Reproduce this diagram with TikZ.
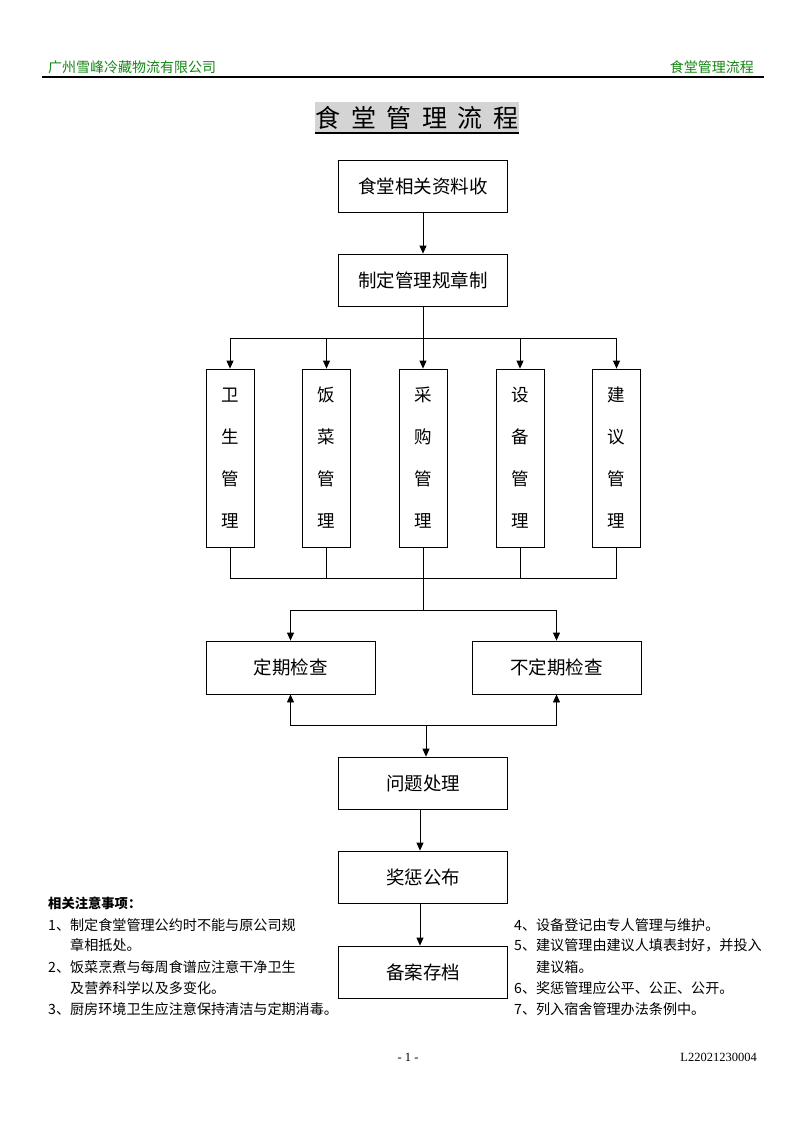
\documentclass[tikz,border=0pt]{standalone}
\usepackage{fontspec}
\setmainfont{Noto Sans CJK SC}
\newfontfamily\cjk{Noto Sans CJK SC}
\newfontfamily\tms{Liberation Serif}
\usetikzlibrary{arrows.meta}
\definecolor{hdrgreen}{RGB}{20,135,20}
\definecolor{titlegray}{RGB}{212,212,212}
\begin{document}
\begin{tikzpicture}[x=1pt,y=-1pt,
  box/.style={draw,line width=0.8pt,minimum width=169pt,minimum height=52pt,inner sep=0pt,font=\cjk\fontsize{18.5}{20}\selectfont},
  tallbox/.style={draw,line width=0.8pt,minimum width=48pt,minimum height=178pt,inner sep=0pt,align=center,font=\cjk\fontsize{17.5}{42}\selectfont},
  link/.style={line width=0.8pt},
  arr/.style={line width=0.8pt,-{Triangle[length=8pt,width=7pt]}},
  note/.style={anchor=west,inner sep=0pt,font=\cjk\fontsize{14.1}{15}\selectfont},
  hdr/.style={inner sep=0pt,text=hdrgreen,font=\cjk\fontsize{14}{16}\selectfont},
  foot/.style={inner sep=0pt,font=\tms\fontsize{12.5}{14}\selectfont}]
\useasboundingbox[fill=white] (0,0) rectangle (800,1132);
% header
\node[hdr,anchor=west] (hl) at (48,67) {广州雪峰冷藏物流有限公司};
\node[hdr,anchor=east] (hr) at (754,67) {食堂管理流程};
\coordinate (ha) at (42,77);
\coordinate (hb) at (764,77);
\draw[line width=1.2pt] (ha) -- (hb);
% title
\node[fill=titlegray,inner xsep=1pt,inner ysep=3.5pt,font=\cjk\fontsize{25}{27}\selectfont] (title) at (417,117.5) {食\hspace{10.5pt}堂\hspace{10.5pt}管\hspace{10.5pt}理\hspace{10.5pt}流\hspace{10.5pt}程};
\draw[line width=1.6pt] (title.south west) -- (title.south east);
% main boxes
\node[box] (n1) at (423,186) {食堂相关资料收};
\node[box] (n2) at (423,280) {制定管理规章制};
\node[tallbox] (t1) at (230,458) {卫\\生\\管\\理};
\node[tallbox] (t2) at (326.5,458) {饭\\菜\\管\\理};
\node[tallbox] (t3) at (423,458) {采\\购\\管\\理};
\node[tallbox] (t4) at (520,458) {设\\备\\管\\理};
\node[tallbox] (t5) at (616.5,458) {建\\议\\管\\理};
\node[box,minimum height=53pt] (c1) at (290.5,667.5) {定期检查};
\node[box,minimum height=53pt] (c2) at (556.5,667.5) {不定期检查};
\node[box] (p) at (423,783) {问题处理};
\node[box] (r) at (423,877) {奖惩公布};
\node[box] (s) at (423,972) {备案存档};
% connectors
\draw[arr] (n1) -- (n2);
\coordinate (j1) at (423,338);
\draw[link] (n2) -- (j1);
\foreach \t in {t1,t2,t3,t4,t5} {\draw[arr] (j1) -| (\t);}
\coordinate (j2) at (423,578);
\foreach \t in {t1,t2,t3,t4,t5} {\draw[link] (\t) |- (j2);}
\coordinate (j3) at (423,610);
\draw[link] (j2) -- (j3);
\draw[arr] (j3) -| (c1);
\draw[arr] (j3) -| (c2);
\coordinate (j4) at (426,725);
\draw[arr] (j4) -| (c1);
\draw[arr] (j4) -| (c2);
\draw[arr] (j4) -- (j4 |- p.north);
\draw[arr] ([xshift=-3pt]p.south) -- ([xshift=-3pt]r.north);
\draw[arr] ([xshift=-3pt]r.south) -- ([xshift=-3pt]s.north);
% notes left
\node[note,font=\cjk\bfseries\fontsize{13.3}{15}\selectfont] (nh) at (48,903) {相关注意事项：};
\node[note] (l1) at (48,925) {1、制定食堂管理公约时不能与原公司规};
\node[note] (l1b) at (70,945.5) {章相抵处。};
\node[note] (l2) at (48,967) {2、饭菜烹煮与每周食谱应注意干净卫生};
\node[note] (l2b) at (70,988) {及营养科学以及多变化。};
\node[note] (l3) at (48,1009) {3、厨房环境卫生应注意保持清洁与定期消毒。};
% notes right
\node[note] (r4) at (514,925) {4、设备登记由专人管理与维护。};
\node[note] (r5) at (514,945.5) {5、建议管理由建议人填表封好，并投入};
\node[note] (r5b) at (536,967) {建议箱。};
\node[note] (r6) at (514,988) {6、奖惩管理应公平、公正、公开。};
\node[note] (r7) at (514,1009) {7、列入宿舍管理办法条例中。};
% footer
\node[foot] (pg) at (408,1057) {- 1 -};
\node[foot,anchor=east] (code) at (757,1057) {L22021230004};
\end{tikzpicture}
\end{document}
